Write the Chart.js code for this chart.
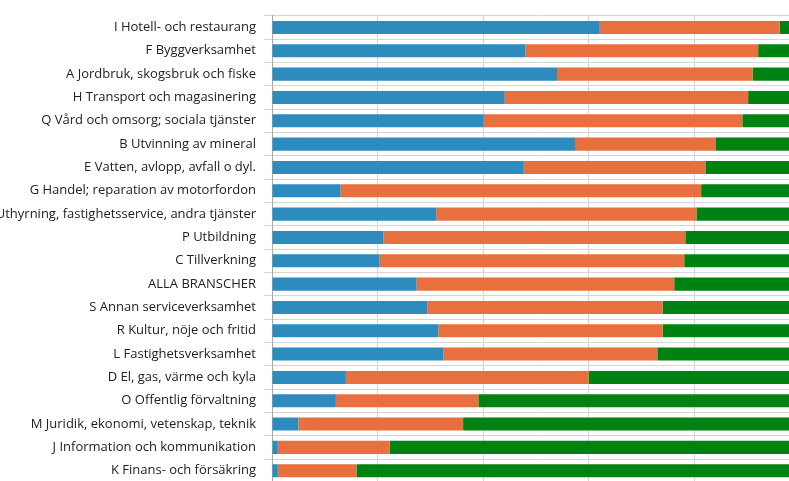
<!DOCTYPE html><html><head><meta charset="utf-8">
<script src="https://cdn.jsdelivr.net/npm/chart.js"></script>
<style>html,body{margin:0;padding:0;overflow:hidden;background:#fff}#w{width:814px;height:512px}</style></head><body><div id="w"><canvas id="c"></canvas></div>
<script>
const categories=["I Hotell- och restaurang","F Byggverksamhet","A Jordbruk, skogsbruk och fiske","H Transport och magasinering","Q Vård och omsorg; sociala tjänster","B Utvinning av mineral","E Vatten, avlopp, avfall o dyl.","G Handel; reparation av motorfordon","N Uthyrning, fastighetsservice, andra tjänster","P Utbildning","C Tillverkning","ALLA BRANSCHER","S Annan serviceverksamhet","R Kultur, nöje och fritid","L Fastighetsverksamhet","D El, gas, värme och kyla","O Offentlig förvaltning","M Juridik, ekonomi, vetenskap, teknik","J Information och kommunikation","K Finans- och försäkring"];
const blueEnd=[62.1,48.0,54.0,44.1,40.1,57.4,47.7,13.0,31.1,21.1,20.4,27.4,29.4,31.5,32.5,14.0,12.1,5.0,1.1,1.1];
const orangeEnd=[96.2,92.1,91.1,90.2,89.1,84.0,82.1,81.3,80.4,78.3,78.1,76.2,74.0,74.0,73.0,60.0,39.1,36.2,22.3,16.0];
const s1=blueEnd;
const s2=orangeEnd.map((v,i)=>+(v-blueEnd[i]).toFixed(1));
const s3=orangeEnd.map(v=>+(100-v).toFixed(1));
const xTicks=[0,20,40,60,80,100];
new Chart(document.getElementById('c'),{type:'bar',
data:{labels:categories,datasets:[
{label:'A',data:s1,backgroundColor:'#2e8bbd'},
{label:'B',data:s2,backgroundColor:'#e8703e'},
{label:'C',data:s3,backgroundColor:'#008213'}]},
options:{indexAxis:'y',responsive:true,maintainAspectRatio:false,animation:false,
categoryPercentage:0.8,barPercentage:0.7,
layout:{padding:{top:12,right:12,left:0,bottom:0}},
plugins:{legend:{display:false},tooltip:{enabled:false}},
scales:{
x:{stacked:true,min:0,max:100,afterBuildTicks:s=>{s.ticks=xTicks.map(v=>({value:v}));},grid:{color:'#d6d6d6'},border:{color:'#aaa'},ticks:{font:{family:'Open Sans',size:13},color:'#333'}},
y:{stacked:true,afterFit:s=>{s.width=272;},grid:{color:'#d6d6d6'},border:{color:'#aaa'},ticks:{font:{family:'Open Sans',size:13},color:'#222',padding:8}}
}}});
</script></body></html>
